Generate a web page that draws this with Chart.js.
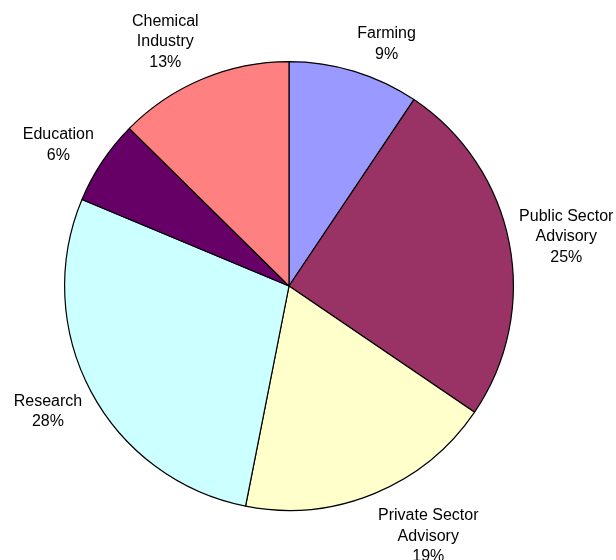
<!DOCTYPE html>
<html>
<head>
<meta charset="utf-8">
<script src="https://cdn.jsdelivr.net/npm/chart.js@4/dist/chart.umd.min.js"></script>
<style>
  html, body { margin: 0; padding: 0; background: #fff; }
  #wrap { width: 616px; height: 560px; }
</style>
</head>
<body>
<div id="wrap"><canvas id="chart" width="616" height="560"></canvas></div>
<script>
// slices, clockwise from 12 o'clock
const categories = [
  ['Farming'],
  ['Public Sector', 'Advisory'],
  ['Private Sector', 'Advisory'],
  ['Research'],
  ['Education'],
  ['Chemical', 'Industry']
];
const shares = [9.4, 25.1, 18.6, 28.2, 6.1, 12.6];
const sliceColors = ['#9999FF', '#993366', '#FFFFCC', '#CCFFFF', '#660066', '#FF8080'];

// outside labels, Excel style: box sits just beyond the rim
const outsideLabels = {
  id: 'outsideLabels',
  afterDatasetsDraw(chart) {
    const ctx = chart.ctx;
    const meta = chart.getDatasetMeta(0);
    const values = chart.data.datasets[0].data;
    const total = values.reduce((a, b) => a + b, 0);
    const lineH = 20.5;
    const gap = 10;
    ctx.save();
    ctx.font = '16px "Liberation Sans", Arial, sans-serif';
    ctx.fillStyle = '#000';
    ctx.textAlign = 'center';
    ctx.textBaseline = 'middle';
    meta.data.forEach((arc, i) => {
      const p = arc.getProps(['x', 'y', 'startAngle', 'endAngle', 'outerRadius'], true);
      const mid = (p.startAngle + p.endAngle) / 2;
      const dx = Math.cos(mid), dy = Math.sin(mid);
      const px = p.x + (p.outerRadius + gap) * dx;
      const py = p.y + (p.outerRadius + gap) * dy;
      const pct = Math.round(values[i] / total * 100) + '%';
      const lines = chart.data.labels[i].concat([pct]);
      const w = Math.max(...lines.map(t => ctx.measureText(t).width));
      const h = lines.length * lineH;
      const cx = dx >= 0 ? px + w / 2 : px - w / 2;
      const f = Math.min(1, 1.25 * Math.abs(dy));
      const cy = py + Math.sign(dy) * f * h / 2 + 3;
      lines.forEach((t, k) => {
        ctx.fillText(t, cx, cy - h / 2 + lineH * (k + 0.5));
      });
    });
    ctx.restore();
  }
};

new Chart(document.getElementById('chart'), {
  type: 'pie',
  data: {
    labels: categories,
    datasets: [{
      data: shares,
      backgroundColor: sliceColors,
      borderColor: '#000',
      borderWidth: 1.2
    }]
  },
  options: {
    responsive: false,
    animation: false,
    layout: { padding: { left: 64, right: 102, top: 61, bottom: 49 } },
    plugins: {
      legend: { display: false },
      tooltip: { enabled: false }
    }
  },
  plugins: [outsideLabels]
});
</script>
</body>
</html>
